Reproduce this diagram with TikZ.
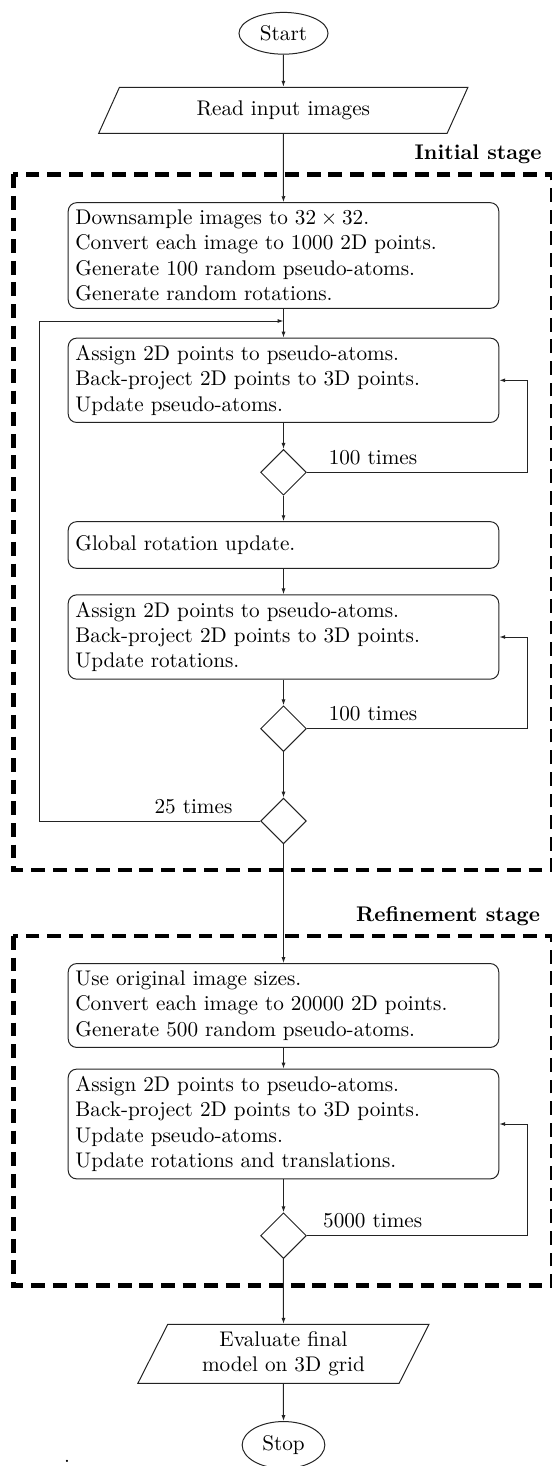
\documentclass[tikz,border=0pt]{standalone}
\usetikzlibrary{shapes.geometric,arrows.meta}
\definecolor{ln}{RGB}{35,35,35}
\begin{document}
\begin{tikzpicture}[x=0.4717pt,y=-0.4717pt,
  proc/.style={draw=ln,line width=0.47pt,rounded corners=4pt,text width=196.3pt,inner xsep=3.4pt,inner ysep=3.333pt,align=left},
  dec/.style={draw=ln,line width=0.47pt,diamond,minimum width=21.6pt,minimum height=21.6pt,inner sep=0pt},
  term/.style={draw=ln,line width=0.47pt,ellipse,inner sep=3.333pt},
  io/.style={draw=ln,line width=0.47pt,trapezium,trapezium stretches=true,align=center},
  flow/.style={draw=ln,line width=0.47pt,-{Latex[length=2.8pt,width=1.9pt]}},
  stagebox/.style={draw=black,line width=2.1pt,dash pattern=on 6.5pt off 3.7pt},
  stagelbl/.style={font=\bfseries,anchor=base east,inner sep=0pt},
  cnt/.style={anchor=base,inner sep=0pt}]
\useasboundingbox (0,0) rectangle (552,1466);
\draw[stagebox] (13.4,174.3) rectangle (552.5,870);
\draw[stagebox] (13.4,936) rectangle (552.5,1285.7);

\node[term,minimum width=42pt] (start) at (283.5,33.3) {Start};
\node[io,trapezium left angle=70.3,trapezium right angle=109.7,minimum width=174.7pt,minimum height=21.7pt] (read) at (283.3,110.3) {Read input images};
\node[stagelbl] (lbl1) at (542,160) {Initial stage};
\node[proc] (b1) at (283.5,255.5) {Downsample images to $32\times32$.\\Convert each image to 1000 2D points.\\Generate 100 random pseudo-atoms.\\Generate random rotations.};
\coordinate (m1) at (283.5,321);
\node[proc] (b2) at (283.5,380.3) {Assign 2D points to pseudo-atoms.\\Back-project 2D points to 3D points.\\Update pseudo-atoms.};
\node[dec] (d1) at (283.5,472.3) {};
\coordinate (r1) at (527.1,472.3);
\node[cnt] (t1) at (373,464) {100 times};
\node[proc,minimum height=22pt] (b3) at (283.5,545) {Global rotation update.};
\node[proc] (b4) at (283.5,637) {Assign 2D points to pseudo-atoms.\\Back-project 2D points to 3D points.\\Update rotations.};
\node[dec] (d2) at (283.5,728.7) {};
\coordinate (r2) at (527.1,728.7);
\node[cnt] (t2) at (373,720.7) {100 times};
\node[dec] (d3) at (283.5,821) {};
\coordinate (l3) at (39.8,821);
\node[cnt] (t3) at (193.5,813.3) {25 times};

\node[stagelbl] (lbl2) at (540.5,921.7) {Refinement stage};
\node[proc] (b5) at (283.5,1005.5) {Use original image sizes.\\Convert each image to 20000 2D points.\\Generate 500 random pseudo-atoms.};
\node[proc] (b6) at (283.5,1124) {Assign 2D points to pseudo-atoms.\\Back-project 2D points to 3D points.\\Update pseudo-atoms.\\Update rotations and translations.};
\node[dec] (d4) at (283.5,1235.7) {};
\coordinate (r4) at (527.1,1235.7);
\node[cnt] (t4) at (372.7,1227.3) {5000 times};
\node[io,trapezium left angle=68.8,trapezium right angle=111.2,minimum width=137.5pt,minimum height=27.8pt] (eval) at (283.45,1353.8) {Evaluate final\\model on 3D grid};
\node[term,minimum width=39pt] (stop) at (283.5,1445) {Stop};
\node[anchor=base,inner sep=0pt] (dot) at (67,1462) {.};

\draw[flow] (start) -- (read);
\draw[flow] (read) -- (b1);
\draw[flow] (b1) -- (b2);
\draw[flow] (d3.west) -- (l3) |- (m1);
\draw[flow] (b2) -- (d1);
\draw[flow] (d1.east) -- (r1) |- (b2.east);
\draw[flow] (d1) -- (b3);
\draw[flow] (b3) -- (b4);
\draw[flow] (b4) -- (d2);
\draw[flow] (d2.east) -- (r2) |- (b4.east);
\draw[flow] (d2) -- (d3);
\draw[flow] (d3) -- (b5);
\draw[flow] (b5) -- (b6);
\draw[flow] (b6) -- (d4);
\draw[flow] (d4.east) -- (r4) |- (b6.east);
\draw[flow] (d4) -- (eval);
\draw[flow] (eval) -- (stop);
\end{tikzpicture}
\end{document}
